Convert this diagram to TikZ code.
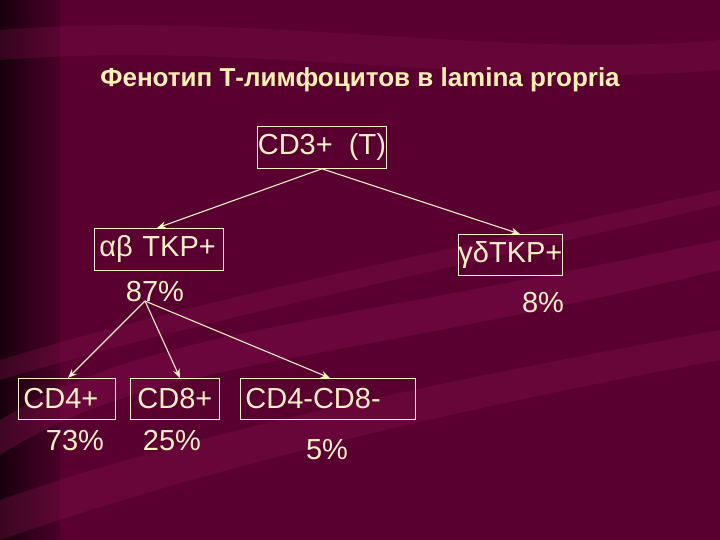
\documentclass[tikz,border=0pt]{standalone}
\usepackage{fontspec}
\setmainfont{Liberation Sans}
\usetikzlibrary{arrows.meta}
\begin{document}
\begin{tikzpicture}[x=1pt,y=-1pt,
  box/.style={draw=cream,line width=0.8pt,text=cream,font=\fontsize{29}{32}\selectfont,inner sep=0pt,anchor=north west},
  pct/.style={text=cream,font=\fontsize{29}{32}\selectfont},
  arr/.style={draw=cream,line width=1.1pt,-{Stealth[length=9pt,width=7pt]}}]
\definecolor{cream}{HTML}{FFF0C8}
\definecolor{bg}{HTML}{5A0030}
\definecolor{band}{HTML}{8A1450}
\fill[bg] (0,0) rectangle (720,540);
\fill[left color=black!70!bg,right color=bg,opacity=0.8] (0,0) rectangle (60,540);
\fill[band,opacity=0.35] (0,420) .. controls (150,330) and (300,330) .. (720,240) -- (720,270) .. controls (300,370) and (150,360) .. (0,455) -- cycle;
\fill[band,opacity=0.3] (0,360) .. controls (200,300) and (400,260) .. (720,190) -- (720,205) .. controls (400,280) and (200,320) .. (0,380) -- cycle;
\fill[band,opacity=0.25] (0,30) .. controls (250,10) and (500,60) .. (720,40) -- (720,70) .. controls (500,90) and (250,40) .. (0,60) -- cycle;
\fill[band,opacity=0.3] (0,500) .. controls (200,430) and (450,380) .. (720,330) -- (720,360) .. controls (450,410) and (200,470) .. (0,540) -- cycle;
\node[text=cream!90!yellow,font=\bfseries\fontsize{26}{30}\selectfont] (title) at (360,80) {Фенотип Т-лимфоцитов в lamina propria};
\node[box,minimum width=129pt,minimum height=42pt] (cd3) at (257,126) {CD3+\ \ (T)};
\node[box,minimum width=129pt,minimum height=42pt,text width=125pt,align=left] (ab) at (94,228) {\hspace{3pt}αβ TKP+};
\node[box,minimum width=102pt,minimum height=41pt] (gd) at (458,234) {γδTKP+};
\node[pct] (p87) at (155,292) {87\%};
\node[pct] (p8) at (543,303) {8\%};
\coordinate (src) at (145,301);
\node[box,minimum width=97pt,minimum height=41pt,text width=93pt,align=left] (cd4) at (18,378) {\hspace{3pt}CD4+};
\node[box,minimum width=89pt,minimum height=41pt] (cd8) at (130,378) {CD8+};
\node[box,minimum width=175pt,minimum height=41pt,text width=171pt,align=left] (dn) at (240,378) {\hspace{3pt}CD4-CD8-};
\node[pct] (p73) at (75,441) {73\%};
\node[pct] (p25) at (172,441) {25\%};
\node[pct] (p5) at (327,450) {5\%};
\draw[arr] (cd3.south) -- (ab.north -| 157,0);
\draw[arr] (cd3.south) -- (gd.north -| 520,0);
\draw[arr] (src) -- (cd4.north -| 68,0);
\draw[arr] (src) -- (cd8.north -| 180,0);
\draw[arr] (src) -- (dn.north -| 330,0);
\end{tikzpicture}
\end{document}
